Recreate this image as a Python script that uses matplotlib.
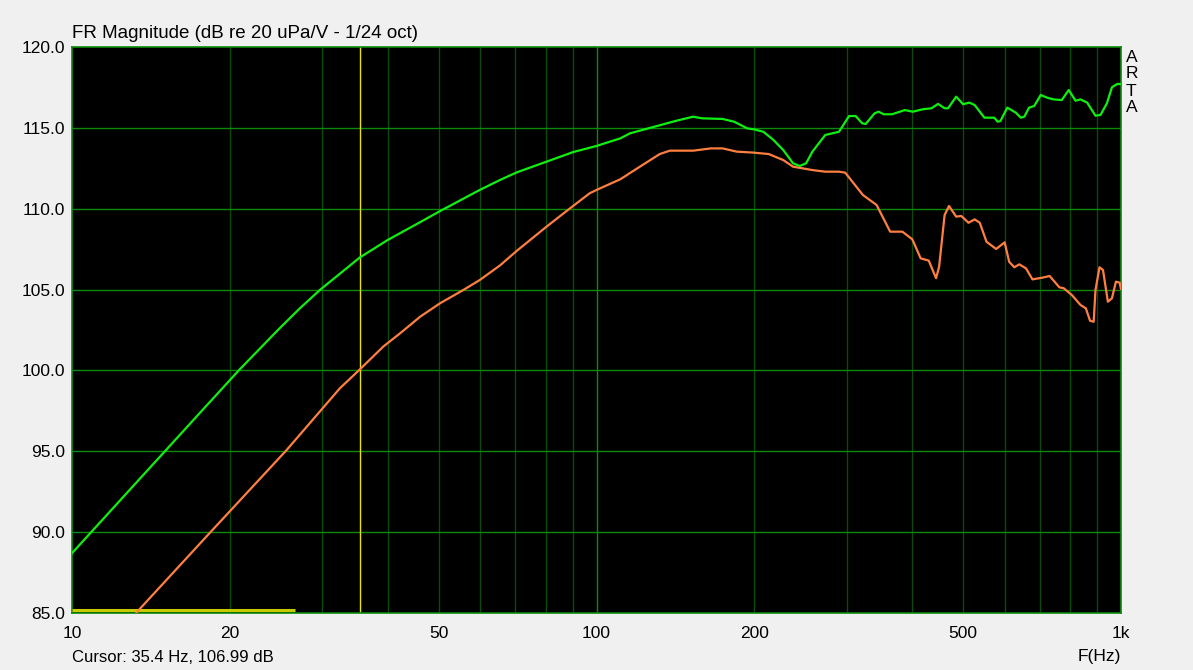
import numpy as np
import matplotlib
matplotlib.use("Agg")
import matplotlib.pyplot as plt

# ---- data ----
green_f = [10, 12.5, 15.29, 17.95, 20.79, 24.78, 27.21, 29.75, 35.4, 40.0, 45.4, 50.3, 59.9,
           65.5, 70.5, 80.3, 90.2, 100,
           111, 115.8, 142, 152.8, 159, 174, 183, 193.8, 199.4, 208, 217.5, 227, 237, 244, 251,
           258, 273, 285, 290, 303, 312, 321, 326, 339, 345, 353, 366, 387, 401, 419, 435, 448,
           461, 468, 485, 500, 514, 526, 549, 573, 582, 589, 607, 630, 644, 654, 668, 683, 703,
           724, 744, 771, 795, 819, 837, 862, 894, 914, 940, 961, 983, 1000]
green_db = [88.7, 92.15, 95.26, 97.74, 100.0, 102.55, 103.85, 105.0, 106.99, 108.07, 109.05,
            109.85, 111.16, 111.78, 112.25, 112.91,
            113.5, 113.88, 114.35, 114.66, 115.44, 115.69, 115.59, 115.55, 115.38, 114.97, 114.91,
            114.76, 114.25, 113.63, 112.81, 112.64, 112.81, 113.53, 114.56, 114.70, 114.76, 115.73,
            115.73, 115.28, 115.24, 115.9, 116.0, 115.84, 115.84, 116.1, 116.0, 116.15, 116.21,
            116.48, 116.21, 116.21, 116.93, 116.46, 116.56, 116.41, 115.63, 115.63, 115.38, 115.42,
            116.25, 115.94, 115.63, 115.69, 116.25, 116.35, 117.03, 116.86, 116.76, 116.72, 117.34,
            116.68, 116.76, 116.56, 115.75, 115.8, 116.52, 117.51, 117.71, 117.71]

orange_f = [13.28, 18.33, 25.66, 32.4, 35.4, 39.2, 42.2, 46.1, 50.3, 55.7, 59.9, 65.5, 70.5, 80.3,
            89, 97, 100, 111, 121, 132, 138, 153, 165, 174, 185, 199, 213, 227, 237, 258, 273, 290,
            298, 322, 342, 363, 383, 400, 415, 430, 444, 450, 461, 470, 485, 496, 512, 526, 538, 554,
            578, 600, 612, 626, 640, 659, 678, 709, 731, 763, 778, 806, 837, 857, 873, 887, 894,
            910, 924, 944, 961, 978, 994, 1000]
orange_db = [85.04, 89.97, 95.08, 98.89, 100.07, 101.47, 102.29, 103.32, 104.15, 104.97, 105.59,
             106.5, 107.4, 108.89, 110.02, 110.95, 111.16, 111.82, 112.6, 113.38, 113.59, 113.59,
             113.73, 113.73, 113.53, 113.47, 113.38, 113.01, 112.6, 112.39, 112.29, 112.29, 112.23,
             110.85, 110.23, 108.58, 108.58, 108.11, 106.93, 106.79, 105.70, 106.41, 109.61, 110.17,
             109.51, 109.55, 109.13, 109.34, 109.13, 107.96, 107.51, 107.92, 106.72, 106.38, 106.56,
             106.31, 105.63, 105.74, 105.84, 105.14, 105.08, 104.66, 104.05, 103.84, 103.07, 103.01,
             104.97, 106.38, 106.21, 104.25, 104.46, 105.49, 105.43, 105.04]

cursor_f = 35.4
marker_f = [10, 26.6]
marker_db = [85.2, 85.2]

xtick_vals = [10, 20, 50, 100, 200, 500, 1000]
xtick_labels = ["10", "20", "50", "100", "200", "500", "1k"]
ytick_vals = [85, 90, 95, 100, 105, 110, 115, 120]

# ---- figure ----
W, H = 1193, 670
fig = plt.figure(figsize=(W / 100, H / 100), dpi=100, facecolor="#f0f0f0")
plt.rcParams['font.family'] = ['Liberation Sans', 'DejaVu Sans']
ax = fig.add_axes([72 / W, 1 - 613 / H, (1121 - 72) / W, (613 - 47) / H])
ax.set_facecolor("black")
ax.set_xscale("log")
ax.set_xlim(10, 1000)
ax.set_ylim(85, 120)

major_c = "#0b8a0b"
minor_c = "#0a4a0a"
for dec in [10, 100]:
    for m in range(2, 10):
        ax.axvline(dec * m, color=minor_c, lw=1.0, zorder=1)
ax.axvline(100, color=major_c, lw=1.0, zorder=1)
for yv in ytick_vals[1:-1]:
    ax.axhline(yv, color=major_c, lw=1.0, zorder=1)

for s in ax.spines.values():
    s.set_color(major_c)
    s.set_linewidth(1.2)

ax.axvline(cursor_f, color="#e6e600", lw=1.0, zorder=2)
ax.plot(marker_f, marker_db, color="#c8c800", lw=2.2, zorder=3, solid_capstyle="butt")

ax.plot(orange_f, orange_db, color="#ff7f40", lw=1.6, zorder=4)
ax.plot(green_f, green_db, color="#10f010", lw=1.6, zorder=5)

ax.set_xticks(xtick_vals)
ax.set_xticklabels(xtick_labels)
ax.xaxis.set_minor_locator(matplotlib.ticker.NullLocator())
ax.set_yticks(ytick_vals)
ax.set_yticklabels([f"{v:.1f}" for v in ytick_vals])
ax.tick_params(axis="both", length=0, labelsize=12.5, colors="black", labelcolor="black")
ax.tick_params(axis="y", pad=5)
ax.tick_params(axis="x", pad=9)

fig.text(72 / W, 1 - 33 / H, "FR Magnitude (dB re 20 uPa/V - 1/24 oct)", fontsize=13.5,
         ha="left", va="center", color="black")
fig.text(72 / W, 1 - 657 / H, "Cursor: 35.4 Hz, 106.99 dB", fontsize=12,
         ha="left", va="center", color="black")
fig.text(1121 / W, 1 - 657 / H, "F(Hz)", fontsize=12.5, ha="right", va="center", color="black")
for i, ch in enumerate("ARTA"):
    fig.text(1126 / W, 1 - (57 + 17 * i) / H, ch, fontsize=12.5, ha="left", va="center",
             color="black")

fig.savefig("out.png", dpi=100, facecolor=fig.get_facecolor())
